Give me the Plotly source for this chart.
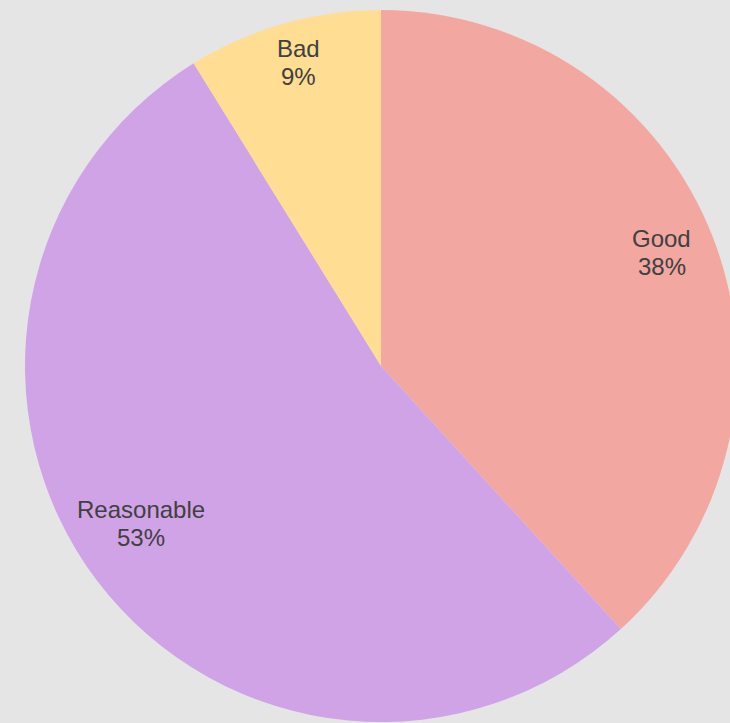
import math
import plotly.graph_objects as go

# Number of ratings per category
categories = ["Good", "Reasonable", "Bad"]
counts = [13, 18, 3]
slice_colors = ["#F2A7A0", "#D0A3E6", "#FFDD93"]

W, H = 750, 723
cx, cy, r = 381, 366, 356  # pie centre and radius in pixels
label_radius = 0.846       # label distance from centre, as a fraction of r
line_gap = 28              # distance between the two label lines, px
# small vertical nudges (px, negative = up) so labels sit clear of edges
label_nudge = {"Good": -5, "Reasonable": -24, "Bad": -14}

fig = go.Figure(
    go.Pie(
        labels=categories,
        values=counts,
        sort=False,
        direction="clockwise",
        rotation=0,
        marker=dict(colors=slice_colors, line=dict(width=0)),
        textinfo="none",
        hoverinfo="label+value+percent",
        showlegend=False,
        domain=dict(
            x=[(cx - r) / W, (cx + r) / W],
            y=[(H - cy - r) / H, (H - cy + r) / H],
        ),
    )
)

label_font = dict(family="Liberation Sans, Arial, sans-serif", size=24, color="#404040")

# Slice labels placed along each slice's bisector: name above, percent below
total = sum(counts)
start = 0.0
for name, v in zip(categories, counts):
    mid = (start + v / 2) / total * 2 * math.pi
    start += v
    px = cx + label_radius * r * math.sin(mid)
    py = cy - label_radius * r * math.cos(mid) + label_nudge[name]
    for text, dy in ((name, -line_gap / 2), (f"{round(v / total * 100)}%", line_gap / 2)):
        fig.add_annotation(
            x=px / W,
            y=1 - (py + dy) / H,
            xref="paper",
            yref="paper",
            text=text,
            showarrow=False,
            xanchor="center",
            yanchor="middle",
            font=label_font,
        )

fig.update_layout(
    width=W,
    height=H,
    margin=dict(l=0, r=0, t=0, b=0),
    paper_bgcolor="#E5E5E5",
    plot_bgcolor="#E5E5E5",
)

fig.write_html(
    "out.html",
    post_script="document.body.style.overflow='hidden';document.body.style.margin='0';",
)
